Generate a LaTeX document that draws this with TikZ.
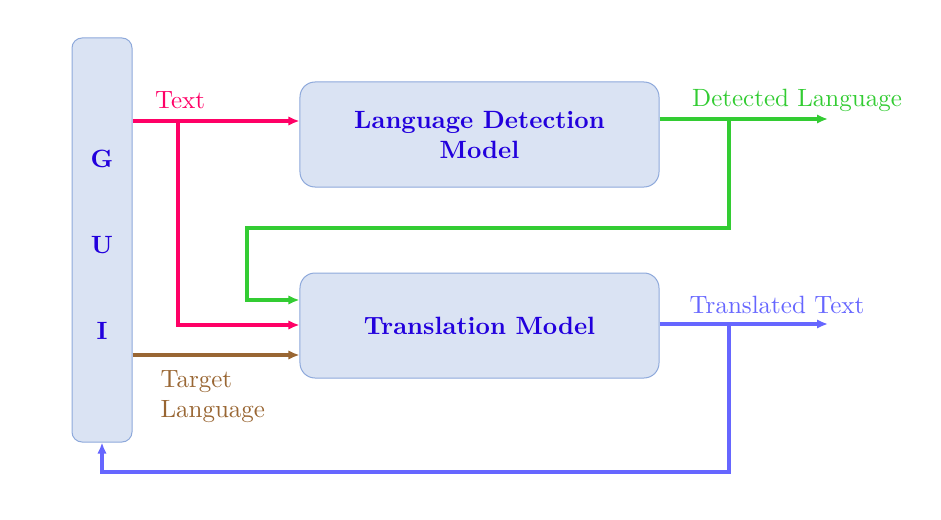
\documentclass[tikz,border=0pt]{standalone}
\usetikzlibrary{arrows.meta}
\definecolor{boxfill}{RGB}{218,227,243}
\definecolor{boxdraw}{RGB}{142,169,219}
\definecolor{titlecol}{RGB}{34,0,221}
\definecolor{redc}{RGB}{255,0,102}
\definecolor{greenc}{RGB}{51,204,51}
\definecolor{brownc}{RGB}{153,102,51}
\definecolor{bluec}{RGB}{102,102,255}
\begin{document}
\begin{tikzpicture}[x=0.4pt,y=-0.4pt,
  blockbox/.style={draw=boxdraw,fill=boxfill,rounded corners=6pt,
    minimum width=143.6pt,minimum height=42pt,text=titlecol,
    font=\bfseries,align=center,inner sep=0pt},
  guibox/.style={draw=boxdraw,fill=boxfill,rounded corners=4pt,
    minimum width=24pt,minimum height=161.6pt,text=titlecol,
    font=\bfseries,align=center,inner sep=0pt},
  conn/.style={line width=1.3pt,-{Latex[length=4.4pt,width=3.8pt]}},
  wire/.style={line width=1.3pt}]
\useasboundingbox (0,0) rectangle (941,520);
\node[guibox] (gui) at (102,240) {\rule{0pt}{11pt}G\\[22.4pt]U\\[22.4pt]I};
\node[blockbox] (ldm) at (479.5,134.5) {Language Detection\\Model};
\node[blockbox] (tm) at (479.5,325.5) {Translation Model};
% coordinates
\coordinate (t0) at (gui.east |- 0,121);
\coordinate (t1) at (178,121);
\coordinate (t2) at (178,325);
\coordinate (g0) at (ldm.east |- 0,119);
\coordinate (g1) at (729,119);
\coordinate (g2) at (828,119);
\coordinate (g3) at (247,228);
\coordinate (b0) at (tm.east |- 0,324);
\coordinate (b1) at (729,324);
\coordinate (b2) at (828,324);
\coordinate (b3) at (729,472);
\coordinate (r0) at (gui.east |- 0,355);
% red
\draw[conn,redc] (t0) -- (t0 -| ldm.west);
\draw[conn,redc] (t1) -- (t2) -- (t2 -| tm.west);
% green
\draw[conn,greenc] (g0) -- (g2);
\draw[conn,greenc] (g1) |- (g3) |- (tm.west |- 0,300);
% brown
\draw[conn,brownc] (r0) -- (r0 -| tm.west);
% blue
\draw[conn,bluec] (b0) -- (b2);
\draw[conn,bluec] (b1) -- (b3) -| (gui.south);
% labels
\node[text=redc] (lt) at (180,100) {Text};
\node[text=greenc] (ld) at (797,100) {Detected Language};
\node[text=bluec] (ltr) at (777,305) {Translated Text};
\node[text=brownc,align=left,anchor=west,inner sep=0pt] (ltl) at (160,397) {Target\\Language};
\end{tikzpicture}
\end{document}
